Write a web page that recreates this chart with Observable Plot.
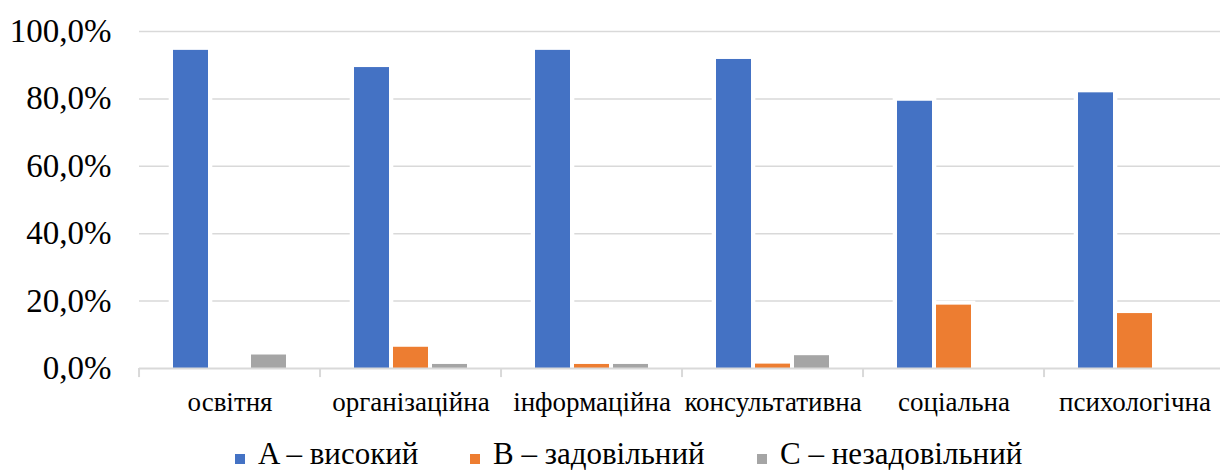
<!DOCTYPE html>
<html>
<head>
<meta charset="utf-8">
<script src="https://cdn.jsdelivr.net/npm/d3@7"></script>
<script src="https://cdn.jsdelivr.net/npm/@observablehq/plot@0.6"></script>
<style>
  html, body { margin: 0; padding: 0; background: #fff; overflow: hidden; width: 1220px; height: 471px; }
  #chart svg { display: block; overflow: hidden; }
  #chart svg, #chart svg text { font-family: "Liberation Serif", "Times New Roman", serif !important; }
  #legend { position: relative; height: 41px; font-family: "Liberation Serif", "Times New Roman", serif; font-size: 31px; line-height: 31px; color: #000; }
  .item { position: absolute; top: 8px; display: flex; align-items: baseline; white-space: nowrap; }
  .sw { display: inline-block; width: 10px; height: 10px; margin-right: 13px; }
</style>
</head>
<body>
<div id="chart"></div>
<div id="legend"></div>
<script>
const categories = ["освітня", "організаційна", "інформаційна", "консультативна", "соціальна", "психологічна"];
const seriesNames = ["A – високий", "B – задовільний", "C – незадовільний"];
const valuesA = [94.4, 89.3, 94.4, 91.7, 79.3, 81.8];
const valuesB = [0, 6.3, 1.2, 1.3, 18.8, 16.3];
const valuesC = [4.0, 1.2, 1.2, 3.8, 0, 0];
const yTicks = [0, 20, 40, 60, 80, 100];
const colors = ["#4472C4", "#ED7D31", "#A5A5A5"];

const seriesValues = [valuesA, valuesB, valuesC];
const data = [];
categories.forEach((c, i) => {
  seriesNames.forEach((s, j) => {
    data.push({category: c, series: s, value: seriesValues[j][i]});
  });
});
const shown = data.filter(d => d.value > 0);
const fmt = d => d.toFixed(1).replace(".", ",") + "%";
const serif = "'Liberation Serif', 'Times New Roman', serif";

const bandW = (1227.5 - 136) / categories.length;

const plot = Plot.plot({
  width: 1220,
  height: 430,
  marginTop: 31,
  marginBottom: 62,
  marginLeft: 136,
  marginRight: 0,
  style: {fontFamily: serif, color: "#000", background: "#fff"},
  fx: {domain: categories, range: [136, 1227.5], padding: 0},
  x: {domain: seriesNames, paddingInner: 0.1, paddingOuter: 0.82, axis: null},
  y: {domain: [0, 100]},
  color: {domain: seriesNames, range: colors},
  marks: [
    Plot.gridY(yTicks.filter(t => t > 0), {stroke: "#d9d9d9", strokeOpacity: 1, strokeWidth: 1.5}),
    Plot.barY(shown, {fx: "category", x: "series", y: "value", fill: "#fff", insetLeft: -4.3, insetRight: -4.3, insetTop: -4}),
    Plot.barY(shown, {fx: "category", x: "series", y: "value", fill: "series"}),
    Plot.ruleY([0], {stroke: "#d9d9d9", strokeWidth: 2}),
    Plot.ruleX(categories, {fx: d => d, x: null, y1: 0, y2: -2.7, dx: -bandW / 2, stroke: "#d9d9d9", strokeWidth: 2}),
    Plot.axisY(yTicks, {tickSize: 0, tickPadding: 28, tickFormat: fmt, fontSize: 33, fontFamily: serif, label: null, facetAnchor: "left"}),
    Plot.axisFx({anchor: "bottom", tickSize: 0, tickPadding: 23, fontSize: 27, fontFamily: serif, label: null})
  ]
});
document.getElementById("chart").appendChild(plot);

const legend = document.getElementById("legend");
const lefts = [235, 470, 757];
seriesNames.forEach((s, j) => {
  const it = document.createElement("div");
  it.className = "item";
  it.style.left = lefts[j] + "px";
  const sw = document.createElement("span");
  sw.className = "sw";
  sw.style.background = colors[j];
  const t = document.createElement("span");
  t.textContent = s;
  it.appendChild(sw);
  it.appendChild(t);
  legend.appendChild(it);
});
</script>
</body>
</html>
